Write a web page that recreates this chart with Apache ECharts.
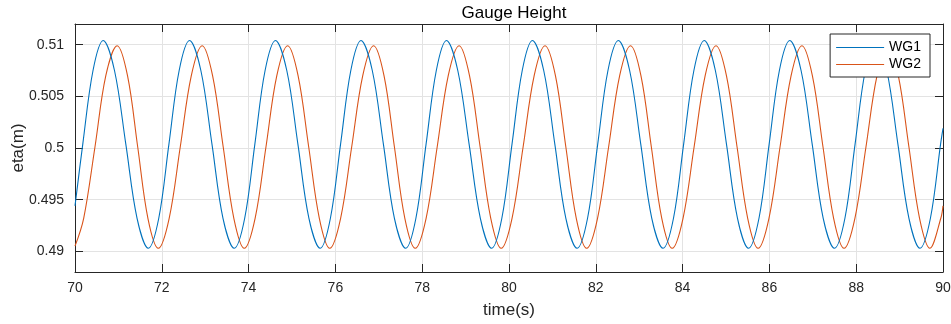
<!DOCTYPE html>
<html>
<head>
<meta charset="utf-8">
<title>Gauge Height</title>
<script src="https://cdn.jsdelivr.net/npm/echarts@6/dist/echarts.min.js"></script>
<style>
  html, body { margin: 0; padding: 0; background: #fff; }
  #chart { width: 951px; height: 324px; }
</style>
</head>
<body>
<div id="chart"></div>
<script>
// gauge readings, [time(s), eta(m)]
const wg1 = [
    [70, 0.4944], [70.18, 0.5004], [70.415, 0.5075], [70.65, 0.5104],
    [70.91, 0.5075], [71.17, 0.5004], [71.43, 0.4932], [71.69, 0.4903],
    [71.93, 0.4932], [72.165, 0.5004], [72.40, 0.5075], [72.64, 0.5104],
    [72.90, 0.5075], [73.155, 0.5004], [73.41, 0.4932], [73.67, 0.4903],
    [73.91, 0.4932], [74.145, 0.5004], [74.38, 0.5075], [74.62, 0.5104],
    [74.88, 0.5075], [75.135, 0.5004], [75.39, 0.4932], [75.65, 0.4903],
    [75.885, 0.4932], [76.12, 0.5004], [76.355, 0.5075], [76.59, 0.5104],
    [76.85, 0.5075], [77.105, 0.5004], [77.36, 0.4932], [77.62, 0.4903],
    [77.855, 0.4932], [78.09, 0.5004], [78.325, 0.5075], [78.56, 0.5104],
    [78.82, 0.5075], [79.08, 0.5004], [79.34, 0.4932], [79.60, 0.4903],
    [79.835, 0.4932], [80.07, 0.5004], [80.305, 0.5075], [80.54, 0.5104],
    [80.80, 0.5075], [81.055, 0.5004], [81.31, 0.4932], [81.57, 0.4903],
    [81.81, 0.4932], [82.045, 0.5004], [82.28, 0.5075], [82.52, 0.5104],
    [82.78, 0.5075], [83.035, 0.5004], [83.29, 0.4932], [83.55, 0.4903],
    [83.79, 0.4932], [84.025, 0.5004], [84.26, 0.5075], [84.50, 0.5104],
    [84.755, 0.5075], [85.01, 0.5004], [85.265, 0.4932], [85.52, 0.4903],
    [85.76, 0.4932], [85.995, 0.5004], [86.23, 0.5075], [86.47, 0.5104],
    [86.73, 0.5075], [86.985, 0.5004], [87.24, 0.4932], [87.50, 0.4903],
    [87.74, 0.4932], [87.975, 0.5004], [88.21, 0.5075], [88.45, 0.5104],
    [88.705, 0.5075], [88.96, 0.5004], [89.215, 0.4932], [89.47, 0.4903],
    [89.71, 0.4932], [89.945, 0.5004], [90, 0.5019]
];
const wg2 = [
    [70, 0.4905], [70.20, 0.4932], [70.46, 0.5001], [70.71, 0.5070], [70.97, 0.5099],
    [71.21, 0.5070], [71.445, 0.5001], [71.68, 0.4932], [71.92, 0.4903],
    [72.17, 0.4932], [72.425, 0.5001], [72.68, 0.5070], [72.93, 0.5099],
    [73.17, 0.5070], [73.415, 0.5001], [73.66, 0.4932], [73.90, 0.4903],
    [74.15, 0.4932], [74.40, 0.5001], [74.65, 0.5070], [74.90, 0.5099],
    [75.14, 0.5070], [75.385, 0.5001], [75.63, 0.4932], [75.87, 0.4903],
    [76.12, 0.4932], [76.375, 0.5001], [76.63, 0.5070], [76.88, 0.5099],
    [77.12, 0.5070], [77.36, 0.5001], [77.60, 0.4932], [77.84, 0.4903],
    [78.09, 0.4932], [78.345, 0.5001], [78.60, 0.5070], [78.85, 0.5099],
    [79.09, 0.5070], [79.335, 0.5001], [79.58, 0.4932], [79.82, 0.4903],
    [80.07, 0.4932], [80.325, 0.5001], [80.58, 0.5070], [80.83, 0.5099],
    [81.07, 0.5070], [81.31, 0.5001], [81.55, 0.4932], [81.79, 0.4903],
    [82.04, 0.4932], [82.295, 0.5001], [82.55, 0.5070], [82.80, 0.5099],
    [83.04, 0.5070], [83.28, 0.5001], [83.52, 0.4932], [83.76, 0.4903],
    [84.01, 0.4932], [84.265, 0.5001], [84.52, 0.5070], [84.77, 0.5099],
    [85.01, 0.5070], [85.255, 0.5001], [85.50, 0.4932], [85.74, 0.4903],
    [85.99, 0.4932], [86.245, 0.5001], [86.50, 0.5070], [86.75, 0.5099],
    [86.99, 0.5070], [87.235, 0.5001], [87.48, 0.4932], [87.72, 0.4903],
    [87.97, 0.4932], [88.225, 0.5001], [88.48, 0.5070], [88.73, 0.5099],
    [88.97, 0.5070], [89.215, 0.5001], [89.46, 0.4932], [89.70, 0.4903],
    [89.95, 0.4932], [90, 0.4944]
];
const seriesNames = ['WG1', 'WG2'];
const yTicks = [0.49, 0.495, 0.5, 0.505, 0.51];

const axisColor = '#262626';
const font = 'Liberation Sans, Arial, sans-serif';

const chart = echarts.init(document.getElementById('chart'), null, { renderer: 'canvas' });

// matlab style box: ticks pointing inward on all four sides
const xBase = {
    type: 'value',
    min: 70,
    max: 90,
    interval: 2,
    axisLine: { show: true, lineStyle: { color: axisColor, width: 1 } },
    axisTick: { show: true, inside: true, length: 8, lineStyle: { color: axisColor } }
};
const yBase = {
    type: 'value',
    min: 0.488,
    max: 0.512,
    axisLine: { show: true, lineStyle: { color: axisColor, width: 1 } },
    axisTick: { show: true, inside: true, length: 8, customValues: yTicks, lineStyle: { color: axisColor } }
};

const option = {
    animation: false,
    color: ['#0072BD', '#D95319'],
    textStyle: { fontFamily: font },
    title: {
        text: 'Gauge Height',
        left: 509,
        textAlign: 'center',
        top: 0,
        textStyle: { fontSize: 17, fontWeight: 'normal', color: '#000', fontFamily: font }
    },
    grid: { left: 75, right: 8, top: 24, bottom: 52, containLabel: false, outerBoundsMode: 'none' },
    legend: {
        orient: 'vertical',
        right: 21,
        top: 34,
        icon: 'rect',
        itemWidth: 48,
        itemHeight: 1,
        itemGap: 0,
        padding: [5, 9, 4, 6],
        borderColor: axisColor,
        borderWidth: 1,
        backgroundColor: '#fff',
        borderRadius: 0,
        textStyle: { fontSize: 14, lineHeight: 17, color: '#000', fontFamily: font },
        data: seriesNames
    },
    xAxis: [
        Object.assign({}, xBase, {
            position: 'bottom',
            name: 'time(s)',
            nameLocation: 'middle',
            nameGap: 30,
            nameTextStyle: { fontSize: 17, color: axisColor, fontFamily: font },
            axisLabel: { fontSize: 14, color: axisColor, margin: 9, fontFamily: font },
            splitLine: { show: true, lineStyle: { color: '#e3e3e3', width: 1 } }
        }),
        Object.assign({}, xBase, {
            position: 'top',
            axisLabel: { show: false },
            splitLine: { show: false }
        })
    ],
    yAxis: [
        Object.assign({}, yBase, {
            position: 'left',
            name: 'eta(m)',
            nameLocation: 'middle',
            nameGap: 48,
            nameRotate: 90,
            nameMoveOverlap: false,
            nameTextStyle: { fontSize: 17, color: axisColor, fontFamily: font },
            axisLabel: { fontSize: 14, color: axisColor, margin: 11, customValues: yTicks, fontFamily: font },
            splitLine: { show: true, lineStyle: { color: '#e3e3e3', width: 1 } }
        }),
        Object.assign({}, yBase, {
            position: 'right',
            axisLabel: { show: false },
            splitLine: { show: false }
        })
    ],
    series: [
        {
            name: seriesNames[0],
            type: 'line',
            data: wg1,
            smooth: 0.35,
            symbol: 'none',
            lineStyle: { width: 1.1 },
            z: 3
        },
        {
            name: seriesNames[1],
            type: 'line',
            data: wg2,
            smooth: 0.35,
            symbol: 'none',
            lineStyle: { width: 1.1 },
            z: 2
        }
    ]
};

chart.setOption(option);
</script>
</body>
</html>
